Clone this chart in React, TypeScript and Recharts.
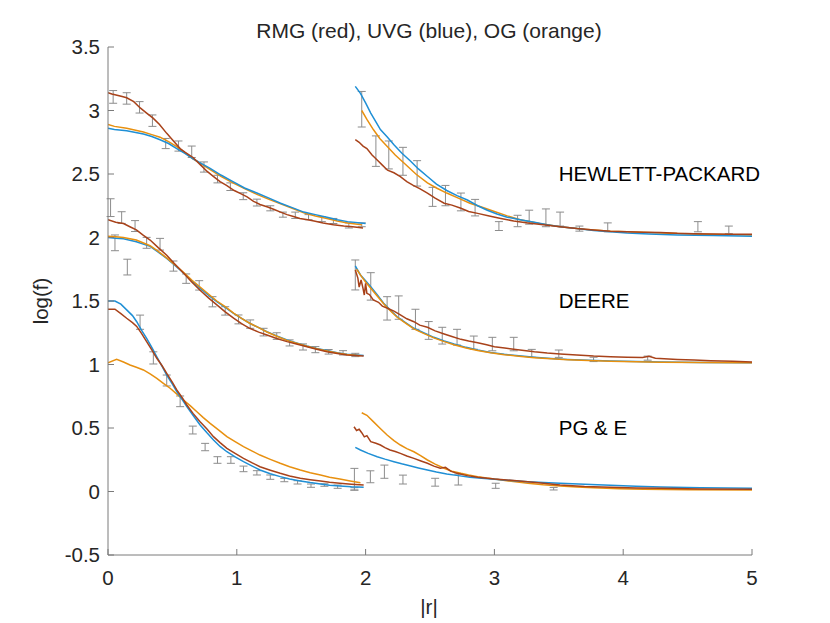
import { ComposedChart, Line, Scatter, ErrorBar, XAxis, YAxis, ReferenceDot } from "recharts"

// [x, log(f)] pairs, one array per curve segment
const hpRedLeft = [[0,3.14],[0.03,3.13],[0.07,3.12],[0.11,3.11],[0.145,3.1],[0.2,3.07],[0.25,3.02],[0.3,2.98],[0.35,2.94],[0.4,2.89],[0.456,2.82],[0.5,2.77],[0.56,2.7],[0.6,2.67],[0.66,2.63],[0.72,2.57],[0.77,2.52],[0.82,2.48],[0.87,2.44],[0.92,2.41],[0.98,2.37],[1.03,2.345],[1.08,2.32],[1.13,2.285],[1.18,2.26],[1.24,2.24],[1.29,2.22],[1.34,2.2],[1.39,2.18],[1.44,2.165],[1.49,2.15],[1.55,2.14],[1.6,2.13],[1.67,2.115],[1.75,2.1],[1.83,2.09],[1.9,2.085],[1.98,2.075]]
const hpBlueLeft = [[0,2.86],[0.05,2.85],[0.145,2.84],[0.275,2.815],[0.34,2.795],[0.404,2.77],[0.47,2.74],[0.534,2.7],[0.6,2.66],[0.66,2.62],[0.73,2.58],[0.793,2.545],[0.88,2.49],[0.97,2.44],[1.06,2.39],[1.156,2.35],[1.25,2.31],[1.34,2.27],[1.43,2.235],[1.52,2.2],[1.61,2.18],[1.7,2.16],[1.78,2.14],[1.86,2.125],[2,2.11]]
const hpOrangeLeft = [[0,2.89],[0.05,2.875],[0.145,2.86],[0.275,2.83],[0.34,2.81],[0.404,2.79],[0.47,2.755],[0.534,2.715],[0.6,2.665],[0.66,2.62],[0.73,2.575],[0.793,2.535],[0.88,2.48],[0.97,2.43],[1.06,2.385],[1.156,2.34],[1.25,2.3],[1.34,2.265],[1.43,2.23],[1.52,2.195],[1.61,2.17],[1.7,2.15],[1.78,2.13],[1.86,2.115],[1.97,2.1]]
const hpRedRight = [[1.92,2.77],[1.95,2.75],[1.98,2.72],[2.01,2.7],[2.05,2.65],[2.09,2.61],[2.13,2.57],[2.17,2.53],[2.22,2.51],[2.27,2.48],[2.32,2.44],[2.37,2.41],[2.42,2.385],[2.48,2.35],[2.54,2.31],[2.61,2.27],[2.67,2.255],[2.74,2.23],[2.8,2.205],[2.87,2.19],[2.96,2.17],[3.05,2.15],[3.15,2.13],[3.26,2.115],[3.38,2.1],[3.51,2.085],[3.64,2.07],[3.77,2.06],[3.9,2.05],[4.03,2.045],[4.16,2.042],[4.29,2.04],[4.42,2.033],[4.55,2.03],[4.7,2.028],[4.85,2.026],[5,2.025]]
const hpBlueRight = [[1.92,3.19],[1.96,3.135],[2,3.06],[2.04,2.98],[2.08,2.91],[2.115,2.85],[2.17,2.79],[2.22,2.73],[2.28,2.665],[2.35,2.6],[2.41,2.54],[2.48,2.48],[2.55,2.42],[2.63,2.37],[2.71,2.33],[2.79,2.295],[2.87,2.25],[2.945,2.215],[3.02,2.185],[3.1,2.16],[3.2,2.14],[3.31,2.12],[3.41,2.1],[3.51,2.085],[3.64,2.07],[3.77,2.055],[3.9,2.045],[4.03,2.035],[4.2,2.028],[4.42,2.02],[4.7,2.015],[5,2.01]]
const hpOrangeRight = [[1.97,3],[2.01,2.93],[2.06,2.85],[2.11,2.78],[2.17,2.715],[2.23,2.65],[2.3,2.585],[2.39,2.5],[2.48,2.43],[2.55,2.39],[2.63,2.35],[2.72,2.31],[2.81,2.27],[2.9,2.24],[3,2.205],[3.1,2.17],[3.2,2.14],[3.35,2.11],[3.51,2.085],[3.7,2.065],[3.9,2.05],[4.03,2.045],[4.3,2.035],[4.6,2.025],[5,2.02]]

const deRedLeft = [[0,2.14],[0.06,2.12],[0.12,2.11],[0.17,2.085],[0.22,2.06],[0.27,2.02],[0.327,1.98],[0.39,1.92],[0.456,1.86],[0.52,1.79],[0.586,1.72],[0.65,1.65],[0.715,1.585],[0.78,1.525],[0.845,1.47],[0.91,1.415],[0.975,1.365],[1.04,1.32],[1.1,1.285],[1.17,1.255],[1.234,1.232],[1.31,1.205],[1.39,1.18],[1.47,1.16],[1.545,1.14],[1.62,1.12],[1.7,1.1],[1.78,1.087],[1.856,1.075],[1.985,1.067]]
const deBlueLeft = [[0,2],[0.06,1.995],[0.12,1.99],[0.22,1.967],[0.327,1.93],[0.39,1.885],[0.456,1.835],[0.52,1.78],[0.586,1.72],[0.65,1.66],[0.715,1.6],[0.78,1.545],[0.845,1.495],[0.91,1.45],[0.975,1.403],[1.04,1.362],[1.1,1.325],[1.17,1.29],[1.234,1.258],[1.31,1.225],[1.39,1.193],[1.47,1.168],[1.545,1.146],[1.62,1.127],[1.7,1.11],[1.78,1.093],[1.856,1.08],[1.985,1.07]]
const deOrangeLeft = [[0,2.01],[0.06,2.005],[0.12,2],[0.22,1.98],[0.327,1.935],[0.39,1.89],[0.456,1.84],[0.52,1.785],[0.586,1.725],[0.65,1.665],[0.715,1.61],[0.78,1.555],[0.845,1.5],[0.91,1.455],[0.975,1.405],[1.04,1.362],[1.1,1.325],[1.17,1.29],[1.234,1.256],[1.31,1.222],[1.39,1.19],[1.47,1.165],[1.545,1.143],[1.62,1.124],[1.7,1.107],[1.78,1.09],[1.856,1.078],[1.96,1.068]]
const deRedRight = [[1.92,1.744],[1.94,1.68],[1.95,1.61],[1.965,1.665],[1.98,1.6],[1.99,1.547],[2,1.64],[2.01,1.56],[2.03,1.55],[2.06,1.508],[2.1,1.49],[2.13,1.46],[2.17,1.443],[2.22,1.42],[2.27,1.39],[2.32,1.36],[2.375,1.337],[2.42,1.31],[2.48,1.293],[2.54,1.265],[2.61,1.24],[2.67,1.22],[2.74,1.198],[2.8,1.185],[2.87,1.172],[2.94,1.155],[3,1.14],[3.08,1.13],[3.15,1.12],[3.23,1.11],[3.31,1.1],[3.41,1.09],[3.51,1.083],[3.64,1.075],[3.77,1.067],[3.9,1.062],[4.03,1.057],[4.15,1.055],[4.2,1.065],[4.25,1.05],[4.42,1.04],[4.55,1.035],[4.68,1.03],[4.85,1.025],[5,1.02]]
const deBlueRight = [[1.92,1.776],[1.96,1.705],[2,1.66],[2.04,1.613],[2.09,1.55],[2.14,1.482],[2.19,1.43],[2.245,1.376],[2.31,1.33],[2.375,1.285],[2.45,1.25],[2.53,1.214],[2.61,1.185],[2.686,1.161],[2.78,1.135],[2.87,1.114],[2.97,1.095],[3.077,1.08],[3.19,1.068],[3.31,1.057],[3.44,1.048],[3.57,1.04],[3.73,1.033],[3.9,1.028],[4.1,1.023],[4.29,1.02],[4.6,1.016],[5,1.014]]
const deOrangeRight = [[1.93,1.75],[1.97,1.69],[2,1.65],[2.04,1.6],[2.09,1.54],[2.14,1.478],[2.19,1.425],[2.245,1.372],[2.31,1.325],[2.375,1.28],[2.45,1.245],[2.53,1.21],[2.61,1.18],[2.686,1.156],[2.78,1.13],[2.87,1.11],[2.97,1.092],[3.077,1.077],[3.19,1.065],[3.31,1.054],[3.44,1.045],[3.57,1.038],[3.73,1.031],[3.9,1.026],[4.1,1.022],[4.29,1.018],[4.6,1.015],[5,1.013]]

const pgRedLeft = [[0,1.435],[0.054,1.435],[0.1,1.4],[0.145,1.364],[0.19,1.33],[0.223,1.3],[0.26,1.245],[0.3,1.18],[0.34,1.115],[0.379,1.049],[0.42,0.99],[0.456,0.93],[0.5,0.86],[0.534,0.8],[0.575,0.74],[0.612,0.681],[0.66,0.615],[0.715,0.55],[0.77,0.49],[0.819,0.432],[0.87,0.385],[0.923,0.34],[0.99,0.298],[1.052,0.261],[1.12,0.225],[1.18,0.195],[1.26,0.168],[1.337,0.143],[1.41,0.122],[1.493,0.104],[1.57,0.093],[1.65,0.083],[1.72,0.073],[1.8,0.065],[1.89,0.058],[1.985,0.051]]
const pgBlueLeft = [[0,1.5],[0.054,1.5],[0.1,1.475],[0.145,1.43],[0.19,1.385],[0.223,1.337],[0.26,1.27],[0.3,1.206],[0.34,1.135],[0.379,1.061],[0.42,0.985],[0.456,0.917],[0.5,0.845],[0.534,0.786],[0.575,0.725],[0.612,0.668],[0.66,0.6],[0.715,0.524],[0.77,0.46],[0.819,0.406],[0.87,0.355],[0.923,0.313],[0.99,0.27],[1.052,0.235],[1.12,0.2],[1.18,0.169],[1.26,0.14],[1.337,0.117],[1.41,0.098],[1.493,0.083],[1.57,0.07],[1.65,0.059],[1.72,0.05],[1.8,0.043],[1.89,0.037],[1.985,0.033]]
const pgOrangeLeft = [[0,1.014],[0.067,1.04],[0.12,1.02],[0.171,0.996],[0.22,0.978],[0.275,0.957],[0.33,0.925],[0.379,0.891],[0.43,0.852],[0.482,0.813],[0.535,0.767],[0.586,0.72],[0.64,0.674],[0.69,0.628],[0.74,0.582],[0.793,0.537],[0.86,0.483],[0.923,0.432],[0.99,0.39],[1.052,0.353],[1.12,0.318],[1.18,0.287],[1.26,0.253],[1.337,0.222],[1.41,0.195],[1.493,0.169],[1.57,0.148],[1.65,0.13],[1.72,0.113],[1.8,0.098],[1.88,0.083],[1.96,0.069]]
const pgRedRight = [[1.91,0.51],[1.93,0.48],[1.95,0.49],[1.97,0.463],[1.99,0.43],[2.01,0.44],[2.04,0.392],[2.08,0.38],[2.115,0.366],[2.15,0.345],[2.19,0.327],[2.23,0.315],[2.27,0.3],[2.32,0.28],[2.375,0.261],[2.43,0.24],[2.48,0.222],[2.53,0.2],[2.58,0.183],[2.62,0.19],[2.66,0.16],[2.71,0.143],[2.79,0.125],[2.87,0.112],[3,0.098],[3.13,0.088],[3.26,0.077],[3.38,0.065],[3.51,0.051],[3.7,0.04],[3.9,0.033],[4.1,0.028],[4.29,0.025],[4.6,0.02],[5,0.017]]
const pgBlueRight = [[1.92,0.348],[1.96,0.327],[2.02,0.3],[2.09,0.274],[2.15,0.255],[2.22,0.235],[2.28,0.218],[2.35,0.2],[2.41,0.185],[2.48,0.169],[2.55,0.153],[2.63,0.138],[2.72,0.125],[2.81,0.112],[2.9,0.104],[3,0.096],[3.13,0.086],[3.26,0.077],[3.38,0.07],[3.51,0.065],[3.7,0.057],[3.9,0.049],[4.1,0.042],[4.29,0.035],[4.6,0.03],[5,0.025]]
const pgOrangeRight = [[1.97,0.62],[2.01,0.6],[2.06,0.55],[2.11,0.5],[2.167,0.445],[2.22,0.4],[2.27,0.366],[2.32,0.338],[2.375,0.313],[2.43,0.28],[2.48,0.248],[2.54,0.215],[2.61,0.183],[2.67,0.16],[2.74,0.143],[2.8,0.13],[2.87,0.117],[2.94,0.106],[3,0.098],[3.13,0.08],[3.26,0.065],[3.38,0.053],[3.51,0.043],[3.64,0.036],[3.77,0.03],[3.97,0.022],[4.16,0.017],[4.5,0.014],[5,0.012]]

// error bars: [x, centre, half-length]
const hpBars = [[0.04,3.107,0.05],[0.145,3.095,0.045],[0.245,3.025,0.045],[0.345,2.92,0.045],[0.448,2.74,0.04],[0.547,2.72,0.04],[0.65,2.675,0.045],[0.745,2.555,0.04],[0.85,2.46,0.03],[0.95,2.4,0.03],[1.05,2.325,0.027],[1.156,2.275,0.027],[1.26,2.23,0.02],[1.358,2.18,0.02],[1.454,2.175,0.025],[1.557,2.16,0.02],[1.66,2.145,0.02],[1.75,2.13,0.02],[1.87,2.095,0.02],[1.97,2.1,0.015],
  [1.97,3.01,0.14],[2.08,2.68,0.12],[2.18,2.65,0.11],[2.29,2.6,0.11],[2.4,2.505,0.1],[2.52,2.32,0.075],[2.62,2.33,0.08],[2.74,2.28,0.07],[2.85,2.235,0.065],[3.035,2.09,0.035],[3.18,2.13,0.045],[3.27,2.16,0.055],[3.4,2.155,0.07],[3.51,2.145,0.055],[3.66,2.07,0.02],[3.88,2.08,0.035],[4.58,2.085,0.04],[4.82,2.06,0.03]]
const deBars = [[0.02,2.235,0.07],[0.054,1.958,0.062],[0.106,2.157,0.046],[0.15,1.767,0.062],[0.21,2.09,0.043],[0.3,1.958,0.043],[0.404,1.947,0.046],[0.508,1.775,0.04],[0.607,1.676,0.037],[0.708,1.623,0.037],[0.811,1.494,0.04],[0.91,1.422,0.033],[1.013,1.355,0.035],[1.104,1.318,0.033],[1.208,1.255,0.03],[1.31,1.224,0.026],[1.41,1.17,0.024],[1.514,1.138,0.024],[1.61,1.117,0.024],[1.713,1.1,0.018],[1.825,1.092,0.017],[1.92,1.075,0.013],
  [1.92,1.705,0.118],[2.04,1.615,0.108],[2.167,1.442,0.092],[2.257,1.448,0.092],[2.387,1.356,0.079],[2.49,1.268,0.07],[2.595,1.227,0.066],[2.71,1.215,0.062],[2.84,1.172,0.052],[2.984,1.161,0.053],[3.15,1.161,0.053],[3.29,1.088,0.031],[3.5,1.085,0.029],[3.77,1.04,0.017],[4.19,1.05,0.016]]
const pgBars = [[0.249,1.333,0.056],[0.352,1.052,0.048],[0.456,0.874,0.043],[0.56,0.71,0.042],[0.658,0.484,0.031],[0.754,0.35,0.029],[0.85,0.248,0.026],[0.954,0.248,0.026],[1.052,0.178,0.022],[1.156,0.147,0.017],[1.26,0.113,0.017],[1.369,0.09,0.013],[1.472,0.072,0.013],[1.576,0.046,0.013],[1.68,0.051,0.01],[1.783,0.038,0.013],[1.913,0.097,0.085],[1.913,0.02,0.01],
  [2.037,0.116,0.047],[2.146,0.156,0.052],[2.29,0.094,0.035],[2.54,0.073,0.031],[2.72,0.094,0.043],[3.01,0.045,0.02],[3.46,0.022,0.01]]

const companies = ["HEWLETT-PACKARD", "DEERE", "PG & E"]
const companyLevels = [2.5, 1.5, 0.5]
const xTicks = [0, 1, 2, 3, 4, 5]
const yTicks = [-0.5, 0, 0.5, 1, 1.5, 2, 2.5, 3, 3.5]

const RED = "#A8421A"
const BLUE = "#1F8FD5"
const ORANGE = "#E8900F"
const GREY = "#8C8C8C"
const AXIS = "#7a7a7a"
const FONT = "'Liberation Sans', Arial, sans-serif"

const pts = (a: number[][]) => a.map(([x, y]) => ({ x, y }))
const bars = (a: number[][]) => a.map(([x, y, e]) => ({ x, y, e }))

const segments = [
  { key: "hpO1", data: hpOrangeLeft, color: ORANGE },
  { key: "hpB1", data: hpBlueLeft, color: BLUE },
  { key: "hpR1", data: hpRedLeft, color: RED },
  { key: "hpO2", data: hpOrangeRight, color: ORANGE },
  { key: "hpB2", data: hpBlueRight, color: BLUE },
  { key: "hpR2", data: hpRedRight, color: RED },
  { key: "deB1", data: deBlueLeft, color: BLUE },
  { key: "deO1", data: deOrangeLeft, color: ORANGE },
  { key: "deR1", data: deRedLeft, color: RED },
  { key: "deB2", data: deBlueRight, color: BLUE },
  { key: "deO2", data: deOrangeRight, color: ORANGE },
  { key: "deR2", data: deRedRight, color: RED },
  { key: "pgO1", data: pgOrangeLeft, color: ORANGE },
  { key: "pgB1", data: pgBlueLeft, color: BLUE },
  { key: "pgR1", data: pgRedLeft, color: RED },
  { key: "pgO2", data: pgOrangeRight, color: ORANGE },
  { key: "pgB2", data: pgBlueRight, color: BLUE },
  { key: "pgR2", data: pgRedRight, color: RED },
]

function XTick({ x, y, payload }: any) {
  return (
    <g>
      <line x1={x} y1={y} x2={x} y2={y - 6} stroke={AXIS} />
      <text x={x} y={y + 29.5} textAnchor="middle" fill="#262626" fontSize={20.5} fontFamily={FONT}>
        {payload.value}
      </text>
    </g>
  )
}

function YTick({ x, y, payload }: any) {
  return (
    <g>
      <line x1={x} y1={y} x2={x + 6} y2={y} stroke={AXIS} />
      <text x={x - 8} y={y + 7.3} textAnchor="end" fill="#262626" fontSize={20.5} fontFamily={FONT}>
        {payload.value}
      </text>
    </g>
  )
}

const NoShape = () => <g />

export default function App() {
  const textStyle = { position: "absolute" as const, fontFamily: FONT, fontSize: 20.5, color: "#262626", whiteSpace: "nowrap" as const }
  return (
    <div style={{ position: "relative", width: 822, height: 615 }}>
      <ComposedChart width={822} height={615} margin={{ top: 39, right: 78, bottom: 0, left: 0 }}>
        <XAxis type="number" dataKey="x" domain={[0, 5]} ticks={xTicks} height={68} tickSize={0} tickMargin={0}
          tickLine={false} axisLine={{ stroke: AXIS }} tick={<XTick />} allowDataOverflow />
        <YAxis type="number" dataKey="y" domain={[-0.5, 3.5]} ticks={yTicks} width={100} tickSize={0} tickMargin={0}
          tickLine={false} axisLine={{ stroke: AXIS }} tick={<YTick />} allowDataOverflow />
        {[hpBars, deBars, pgBars].map((b, i) => (
          <Scatter key={"bars" + i} data={bars(b)} dataKey="y" shape={NoShape} isAnimationActive={false}>
            <ErrorBar dataKey="e" direction="y" width={4} stroke={GREY} strokeWidth={1} isAnimationActive={false} />
          </Scatter>
        ))}
        {segments.map((s) => (
          <Line key={s.key} data={pts(s.data)} dataKey="y" type="linear" stroke={s.color} strokeWidth={1.5}
            dot={false} activeDot={false} isAnimationActive={false} />
        ))}
        {companies.map((name, i) => (
          <ReferenceDot key={name} x={3.5} y={companyLevels[i]} r={0}
            shape={(p: any) => (
              <text x={p.cx} y={p.cy + 7.3} fill="#000" fontSize={20.5} fontFamily={FONT}>{name}</text>
            )} />
        ))}
      </ComposedChart>
      <div style={{ ...textStyle, left: 421, top: 23, fontSize: 21, transform: "translate(-50%, -50%)" }}>
        RMG (red), UVG (blue), OG (orange)
      </div>
      <div style={{ ...textStyle, left: 421, top: 599, transform: "translate(-50%, -50%)" }}>|r|</div>
      <div style={{ ...textStyle, left: 33, top: 293, transform: "translate(-50%, -50%) rotate(-90deg)" }}>log(f)</div>
    </div>
  )
}
